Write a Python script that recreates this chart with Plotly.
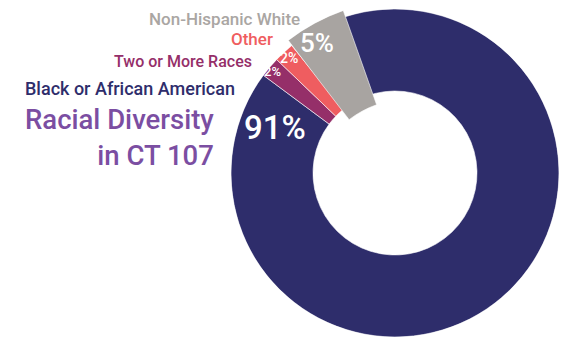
import math
import plotly.graph_objects as go

# ---------------- data ----------------
categories = ["Black or African American", "Two or More Races", "Other", "Non-Hispanic White"]
values = [91, 2, 2, 5]
slice_colors = ["#2e2d6b", "#952f69", "#ef5d60", "#a8a4a1"]
label_colors = ["#2e2d6b", "#952f69", "#ef5d60", "#aaa6a3"]
pct_labels = [f"{v}%" for v in values]
title_text = "Racial Diversity<br>in CT 107"

# ---------------- layout constants ----------------
PAGE_W, PAGE_H = 569, 339
OFF = 8                      # default body margin of the html page
FW, FH = PAGE_W - OFF, PAGE_H - OFF
FONT = "Roboto"

main_cx, main_cy, main_r = 395, 173, 164      # page px, main donut
main_rot = -21                                 # start angle of first slice (deg, clockwise from top)
hole = 0.5

big_cx, big_cy, big_r = 410, 199, 200          # enlarged highlighted slice (page px)
big_rot = -19.5
highlight = 3

total = sum(values)


def X(px):
    return (px - OFF) / FW


def Y(py):
    return 1 - (py - OFF) / FH


def slice_geometry(rot):
    thetas, widths = [], []
    cum = 0
    for v in values:
        w = 360.0 * v / total
        thetas.append((rot + 360.0 * cum / total + w / 2) % 360)
        widths.append(w)
        cum += v
    return thetas, widths


main_theta, main_width = slice_geometry(main_rot)
big_theta, big_width = slice_geometry(big_rot)

fig = go.Figure()

fig.add_trace(go.Barpolar(
    r=[1 - hole] * len(values), base=[hole] * len(values),
    theta=main_theta, width=main_width,
    marker=dict(color=slice_colors, line=dict(color="white", width=0.6)),
    text=categories, hoverinfo="text", showlegend=False, subplot="polar",
))

fig.add_trace(go.Barpolar(
    r=[1 - hole], base=[hole],
    theta=[big_theta[highlight]], width=[big_width[highlight]],
    marker=dict(color=[slice_colors[highlight]], line=dict(color="white", width=0.6)),
    text=[categories[highlight]], hoverinfo="text", showlegend=False, subplot="polar2",
))

# sector of the highlight subplot (layout degrees, ccw from east)
pad = 0.5
t0 = big_theta[highlight] - big_width[highlight] / 2 - pad
t1 = big_theta[highlight] + big_width[highlight] / 2 + pad
a_lo, a_hi = 90 - t1, 90 - t0
a_lo_m = a_lo % 360
a_hi_m = a_lo_m + (a_hi - a_lo)
cs = [math.cos(math.radians(a)) for a in (a_lo_m, a_hi_m)]
sn = [math.sin(math.radians(a)) for a in (a_lo_m, a_hi_m)]
bx0, bx1 = min(min(cs), 0), max(max(cs), 0)
by0, by1 = min(min(sn), 0), max(max(sn), 0)
px_left = big_cx + big_r * bx0
px_right = big_cx + big_r * bx1
px_top = big_cy - big_r * by1
px_bottom = big_cy - big_r * by0

common_axes = dict(
    bgcolor="rgba(0,0,0,0)",
    radialaxis=dict(visible=False, range=[0, 1], showgrid=False),
    angularaxis=dict(visible=False, rotation=90, direction="clockwise", showgrid=False),
)

fig.update_layout(
    width=FW, height=FH,
    margin=dict(l=0, r=0, t=0, b=0),
    paper_bgcolor="white", plot_bgcolor="white",
    polar=dict(
        domain=dict(x=[X(main_cx - main_r), X(main_cx + main_r)],
                    y=[Y(main_cy + main_r), Y(main_cy - main_r)]),
        **common_axes,
    ),
    polar2=dict(
        domain=dict(x=[X(px_left), X(px_right)],
                    y=[Y(px_bottom), Y(px_top)]),
        sector=[a_lo, a_hi],
        **common_axes,
    ),
)

annotations = []

# category labels (right aligned): (right x, middle y, size) in page px
label_pos = {
    "Black or African American": (237, 88, 18),
    "Two or More Races": (254, 61.5, 16),
    "Other": (275, 39, 17),
    "Non-Hispanic White": (302, 19, 17),
}
for cat, col in zip(categories, label_colors):
    x, y, s = label_pos[cat]
    annotations.append(dict(
        text=cat, x=X(x), y=Y(y), xref="paper", yref="paper",
        xanchor="right", yanchor="middle", showarrow=False,
        font=dict(family=FONT, size=s, color=col, weight=500),
    ))

# percentage labels: (center x, middle y, size)
pct_pos = [(274.5, 127, 33), (272, 72, 13), (288.5, 57.5, 14), (317.5, 43, 26)]
for txt, (x, y, s) in zip(pct_labels, pct_pos):
    annotations.append(dict(
        text=txt, x=X(x), y=Y(y), xref="paper", yref="paper",
        xanchor="center", yanchor="middle", showarrow=False,
        font=dict(family=FONT, size=s, color="white", weight=500),
    ))

# title
annotations.append(dict(
    text=title_text, x=X(216), y=Y(137), xref="paper", yref="paper",
    xanchor="right", yanchor="middle", align="right", showarrow=False,
    font=dict(family=FONT, size=27.5, color="#7b4ea2", weight=500),
))

fig.update_layout(annotations=annotations)

fig.write_html("out.html")
